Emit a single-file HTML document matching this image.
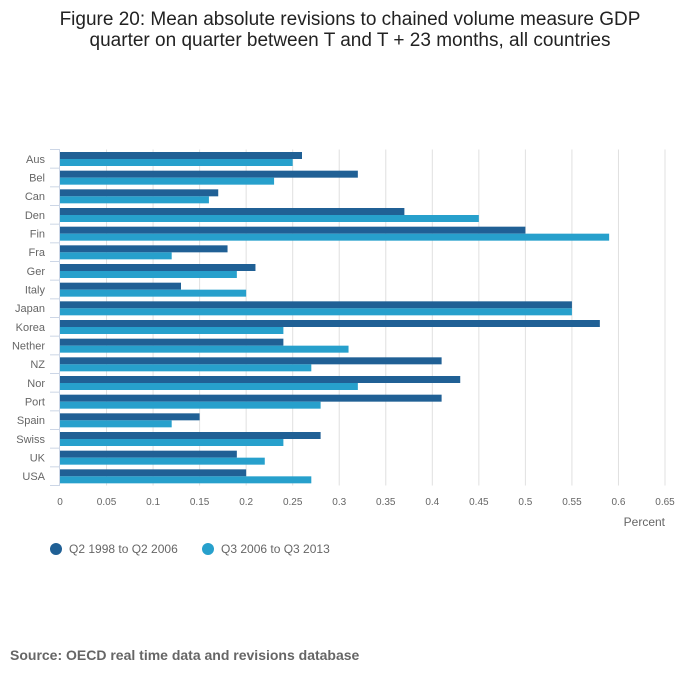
<!DOCTYPE html>
<html><head><meta charset="utf-8"><style>
body{margin:0;background:#fff;font-family:"Liberation Sans",sans-serif;}
</style></head><body>
<svg width="700" height="682" xmlns="http://www.w3.org/2000/svg" id="c">
<text x="350" y="25" text-anchor="middle" font-size="19" fill="#222">Figure 20: Mean absolute revisions to chained volume measure GDP</text>
<text x="350" y="46" text-anchor="middle" font-size="19" fill="#222">quarter on quarter between T and T + 23 months, all countries</text>
<g id="plot"></g>
<text x="665" y="526" text-anchor="end" font-size="12" fill="#666">Percent</text>
<g>
<circle cx="56" cy="549" r="6" fill="#206095"/>
<text x="69" y="553" font-size="12" fill="#666">Q2 1998 to Q2 2006</text>
<circle cx="208" cy="549" r="6" fill="#27a0cc"/>
<text x="221" y="553" font-size="12" fill="#666">Q3 2006 to Q3 2013</text>
</g>
<text x="10" y="660" font-size="14" font-weight="bold" fill="#666">Source: OECD real time data and revisions database</text>
</svg>
<script>
const categories=["Aus","Bel","Can","Den","Fin","Fra","Ger","Italy","Japan","Korea","Nether","NZ","Nor","Port","Spain","Swiss","UK","USA"];
const series1=[0.26,0.32,0.17,0.37,0.50,0.18,0.21,0.13,0.55,0.58,0.24,0.41,0.43,0.41,0.15,0.28,0.19,0.20];
const series2=[0.25,0.23,0.16,0.45,0.59,0.12,0.19,0.20,0.55,0.24,0.31,0.27,0.32,0.28,0.12,0.24,0.22,0.27];
const ticks=[0,0.05,0.1,0.15,0.2,0.25,0.3,0.35,0.4,0.45,0.5,0.55,0.6,0.65];
const tickLabels=["0","0.05","0.1","0.15","0.2","0.25","0.3","0.35","0.4","0.45","0.5","0.55","0.6","0.65"];
const NS="http://www.w3.org/2000/svg";
const g=document.getElementById('plot');
const x0=60,x1=665,y0=149.5,band=(485.5-149.5)/categories.length;
const xs=v=>x0+v/0.65*(x1-x0);
function mk(t,a){const e=document.createElementNS(NS,t);for(const k in a)e.setAttribute(k,a[k]);g.appendChild(e);return e;}
ticks.forEach((t,i)=>{
 if(i>0){const l=mk('line',{x1:xs(t),x2:xs(t),y1:y0,y2:485.5,stroke:'#e0e0e0','stroke-width':1});
 
 }
 const tx=mk('text',{x:xs(t),y:505,'text-anchor':'middle','font-size':10,fill:'#666'});
 tx.textContent=tickLabels[i];
 
 
});
categories.forEach((c,i)=>{
 const top=y0+i*band;
 const t=mk('line',{x1:50,x2:60,y1:top,y2:top,stroke:'#ccd6e6','stroke-width':1});
 
 
 const r1=mk('rect',{x:x0,y:top+2.5,width:xs(series1[i])-x0,height:7,fill:'#206095'});
 
 
 const r2=mk('rect',{x:x0,y:top+9.5,width:xs(series2[i])-x0,height:7,fill:'#27a0cc'});
 
 
 const tx=mk('text',{x:45,y:top+band/2+4,'text-anchor':'end','font-size':11,fill:'#666'});
 tx.textContent=c;
 
 
});
const b=mk('line',{x1:50,x2:60,y1:485.5,y2:485.5,stroke:'#ccd6e6'});


const ax=mk('line',{x1:59.5,x2:59.5,y1:y0,y2:485.5,stroke:'#ccd6e6','stroke-width':1});


</script>
</body></html>
